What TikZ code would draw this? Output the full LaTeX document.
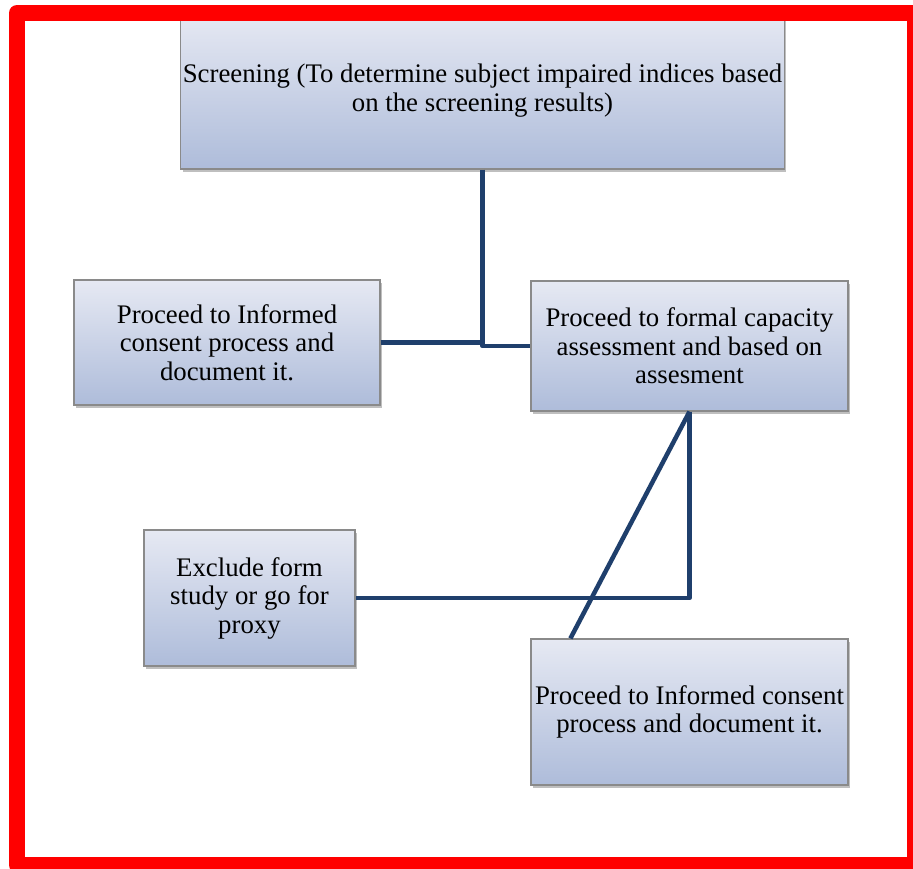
\documentclass[tikz,border=0pt]{standalone}
\usepackage{fontspec}
\setmainfont{Liberation Serif}
\usetikzlibrary{shadows,calc}
\definecolor{boxtop}{HTML}{E6E9F3}
\definecolor{boxbot}{HTML}{AEBCDA}
\definecolor{boxline}{HTML}{8A8A8A}
\definecolor{conn}{HTML}{1F3F6C}
\begin{document}
\begin{tikzpicture}[x=1pt,y=-1pt,
  flowbox/.style={draw=boxline, line width=1.2pt, top color=boxtop, bottom color=boxbot,
    drop shadow={shadow xshift=2pt, shadow yshift=-3pt, opacity=0.25, fill=black},
    align=center, inner sep=2pt, font=\fontsize{26.8}{28.5}\selectfont},
  link/.style={draw=conn, line width=4.5pt, line join=round}]
\useasboundingbox (0,0) rectangle (913,869);
\fill[white] (0,0) rectangle (913,869);
\node[flowbox, minimum width=603pt, minimum height=157pt] (s) at (482.5,90.5)
  {Screening (To determine subject impaired indices based\\on the screening results)};
\node[flowbox, minimum width=306pt, minimum height=125pt] (ic1) at (227,342.5)
  {Proceed to Informed\\consent process and\\document it.};
\node[flowbox, minimum width=317pt, minimum height=130pt] (fc) at (689.5,346)
  {Proceed to formal capacity\\assessment and based on\\assesment};
\node[flowbox, minimum width=211pt, minimum height=136pt] (ex) at (249.5,598)
  {Exclude form\\study or go for\\proxy};
\node[flowbox, minimum width=317pt, minimum height=146pt] (ic2) at (689.5,712)
  {Proceed to Informed consent\\process and document it.};
\coordinate (d) at ($(ic2.north west)+(40,0)$);
\draw[link] (s.south) |- (fc.west);
\draw[link] (ic1.east) -- (ic1.east -| s.south);
\draw[link] (fc.south) |- (ex.east);
\draw[link] (fc.south) -- (d);
\draw[red, line width=16pt, line join=round] (17,13) rectangle (915,865);
\end{tikzpicture}
\end{document}
